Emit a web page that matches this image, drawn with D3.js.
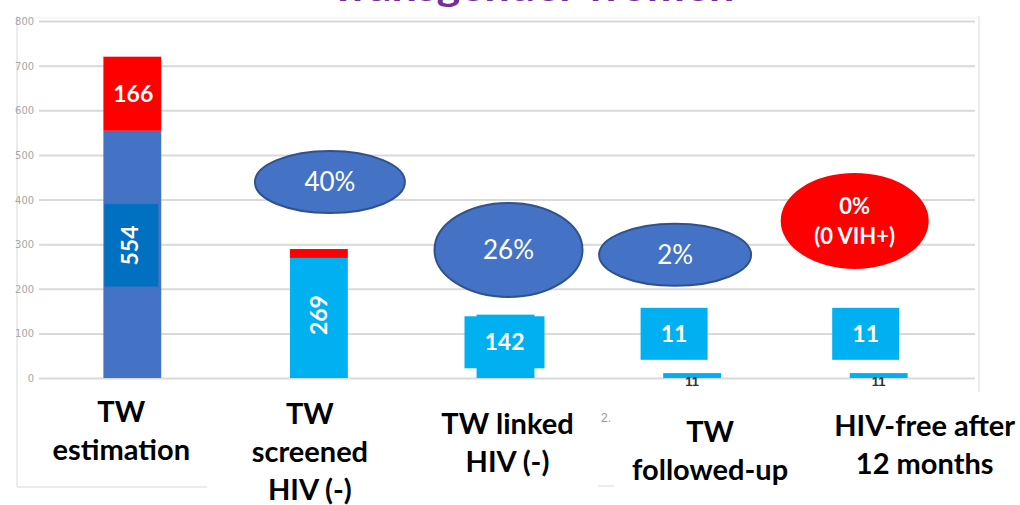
<!DOCTYPE html>
<html>
<head>
<meta charset="utf-8">
<script src="https://d3js.org/d3.v7.min.js"></script>
<style>
  body { margin: 0; background: #fff; font-family: Lato, "Open Sans", sans-serif; }
  svg { display: block; }
</style>
</head>
<body>
<svg></svg>
<script>
// data
const categories = [
  ["TW", "estimation"],
  ["TW", "screened", "HIV (-)"],
  ["TW linked", "HIV (-)"],
  ["TW", "followed-up"],
  ["HIV-free after", "12 months"]
];
const baseValues = [554, 269, 142, 11, 11];
const topValues = [166, 20, 0, 0, 0];
const baseColors = ["#4472C4", "#00B0F0", "#00B0F0", "#00B0F0", "#00B0F0"];
const yTicks = [0, 100, 200, 300, 400, 500, 600, 700, 800];

// percentage bubbles: text lines and vertical level (chart units)
const bubbleText = [["40%"], ["26%"], ["2%"], ["0%", "(0 VIH+)"]];
const bubbleLevel = [439, 287, 276, 352];
const bubbleCat = [1, 2, 3, 4];

// layout
const width = 1020, height = 505;
const marginLeft = 39, marginRight = 48;
const y0 = 378, yTop = 21;

const svg = d3.select("svg")
  .attr("width", width)
  .attr("height", height)
  .attr("viewBox", [0, 0, width, height]);

const x = d3.scaleBand()
  .domain(d3.range(categories.length))
  .range([marginLeft, width - marginRight])
  .paddingInner(0.69)
  .paddingOuter(0.345);

const y = d3.scaleLinear()
  .domain([0, 800])
  .range([y0, yTop]);

// chart frame (partly hidden behind the slide's text boxes)
const frame = svg.append("g").attr("stroke", "#d9d9d9").attr("stroke-width", 1);
frame.append("line").attr("x1", 17).attr("x2", 17).attr("y1", 16).attr("y2", 487);
frame.append("line").attr("x1", 17).attr("x2", 207).attr("y1", 487).attr("y2", 487);
frame.append("line").attr("x1", 598).attr("x2", 614).attr("y1", 486).attr("y2", 486);
frame.append("line").attr("x1", 979).attr("x2", 979).attr("y1", 16).attr("y2", 392);
frame.append("line").attr("x1", 17).attr("x2", 979).attr("y1", 18).attr("y2", 18).attr("stroke", "#f0f0f0");

// gridlines + tick labels
svg.append("g")
  .attr("transform", `translate(${marginLeft},0)`)
  .call(d3.axisLeft(y).tickValues(yTicks).tickSize(-(975 - marginLeft)).tickPadding(5))
  .call(g => g.select(".domain").remove())
  .call(g => g.selectAll(".tick line").attr("stroke", "#d9d9d9").attr("stroke-width", 2))
  .call(g => g.selectAll(".tick text")
      .attr("fill", "#a6a6a6")
      .attr("font-family", "'Liberation Sans Narrow', 'DejaVu Sans Condensed', sans-serif")
      .attr("font-size", 11));

// title, cut off by the top of the slide
svg.append("text")
  .attr("x", 532)
  .attr("y", 1)
  .attr("text-anchor", "middle")
  .attr("fill", "#7030A0")
  .attr("font-weight", "bold")
  .attr("font-size", 38)
  .attr("textLength", 405)
  .attr("lengthAdjust", "spacingAndGlyphs")
  .text("Transgender women");

// stacked bars
svg.append("g")
  .selectAll("rect")
  .data(baseValues)
  .join("rect")
    .attr("x", (d, i) => x(i))
    .attr("width", x.bandwidth())
    .attr("y", d => y(d))
    .attr("height", d => y(0) - y(d))
    .attr("fill", (d, i) => baseColors[i]);

svg.append("g")
  .selectAll("rect")
  .data(topValues)
  .join("rect")
    .filter(d => d > 0)
    .attr("x", (d, i) => x(i))
    .attr("width", x.bandwidth())
    .attr("y", (d, i) => y(baseValues[i] + d))
    .attr("height", (d, i) => y(baseValues[i]) - y(baseValues[i] + d))
    .attr("fill", "#FF0000");

// value labels
const lab = svg.append("g")
  .attr("fill", "#fff")
  .attr("font-weight", "bold")
  .attr("text-anchor", "middle")
  .attr("font-size", 23);

lab.append("text")
  .attr("x", x(0) + x.bandwidth() / 2 + 1)
  .attr("y", y(baseValues[0] + topValues[0] / 2))
  .attr("dy", "0.35em")
  .text(topValues[0]);

// 554 in a darker box, rotated
lab.append("rect")
  .attr("x", x(0) + 1).attr("width", x.bandwidth() - 4)
  .attr("y", y(390)).attr("height", y(205) - y(390))
  .attr("fill", "#0070C0");
lab.append("text")
  .attr("transform", `translate(${x(0) + x.bandwidth() / 2 - 2},${y(297)}) rotate(-90)`)
  .attr("dy", "0.35em")
  .text(baseValues[0]);

lab.append("text")
  .attr("transform", `translate(${x(1) + x.bandwidth() / 2},${y(141)}) rotate(-90)`)
  .attr("dy", "0.35em")
  .text(baseValues[1]);

// boxed labels for the small bars
const boxDx = [0, 0, -1, -18, -13];
[2, 3, 4].forEach(i => {
  const cx = x(i) + x.bandwidth() / 2 + boxDx[i];
  const bw = i === 2 ? 80 : 67;
  const cy = i === 2 ? y(80) : y(99);
  lab.append("rect")
    .attr("x", cx - bw / 2).attr("width", bw)
    .attr("y", cy - 26).attr("height", 52)
    .attr("fill", "#00B0F0");
  lab.append("text")
    .attr("x", cx).attr("y", cy)
    .attr("dy", "0.35em")
    .text(baseValues[i]);
});

// stray default labels left on the slide
[3, 4].forEach(i => {
  svg.append("text")
    .attr("x", x(i) + x.bandwidth() / 2)
    .attr("y", y0 + 8)
    .attr("text-anchor", "middle")
    .attr("font-size", 13)
    .attr("font-weight", "bold")
    .attr("fill", "#333")
    .attr("font-family", "'Liberation Sans Narrow', sans-serif")
    .text(baseValues[i]);
});
svg.append("text")
  .attr("x", 606).attr("y", 422)
  .attr("font-size", 12).attr("fill", "#999")
  .attr("text-anchor", "middle")
  .attr("font-family", "'Liberation Sans Narrow', sans-serif")
  .text("2.");

// percentage ellipses
const bubbleDx = [11, 3, -17, -24];
const bubbleR = [[75, 31], [74, 47], [76, 31], [74, 48]];
bubbleText.forEach((lines, k) => {
  const i = bubbleCat[k];
  const cx = x(i) + x.bandwidth() / 2 + bubbleDx[k];
  const cy = y(bubbleLevel[k]);
  const red = lines.length > 1;
  svg.append("ellipse")
    .attr("cx", cx).attr("cy", cy)
    .attr("rx", bubbleR[k][0]).attr("ry", bubbleR[k][1])
    .attr("fill", red ? "#FF0000" : "#4472C4")
    .attr("stroke", red ? "none" : "#2F528F")
    .attr("stroke-width", 2);
  const t = svg.append("text")
    .attr("x", cx)
    .attr("y", cy - (lines.length - 1) * 15)
    .attr("text-anchor", "middle")
    .attr("fill", "#fff")
    .attr("font-size", red ? 22 : 26)
    .attr("font-weight", red ? "bold" : "normal");
  lines.forEach((s, j) => t.append("tspan")
    .attr("x", cx)
    .attr("dy", j === 0 ? "0.35em" : 30)
    .text(s));
});

// category labels
const labelDx = [-11, -9, 2, 18, 46];
const labelY = [412, 414, 424, 432, 426];
categories.forEach((lines, i) => {
  const t = svg.append("text")
    .attr("text-anchor", "middle")
    .attr("font-weight", "bold")
    .attr("font-size", 29)
    .attr("fill", "#000")
    .attr("y", labelY[i]);
  const cx = x(i) + x.bandwidth() / 2 + labelDx[i];
  lines.forEach((s, j) => t.append("tspan")
    .attr("x", cx)
    .attr("dy", j === 0 ? "0.35em" : 38)
    .text(s));
});
</script>
</body>
</html>
